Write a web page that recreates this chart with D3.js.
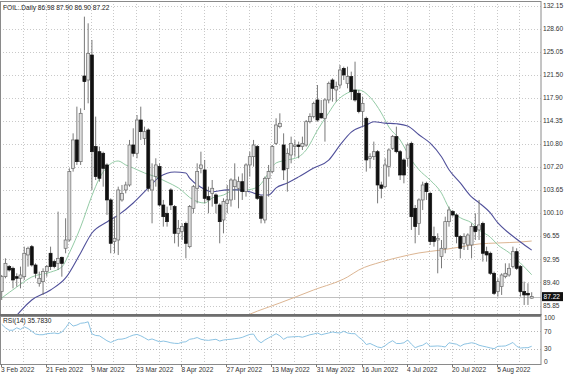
<!DOCTYPE html>
<html><head><meta charset="utf-8">
<script src="https://cdn.jsdelivr.net/npm/d3@7"></script>
<style>html,body{margin:0;padding:0;background:#fff;}svg{display:block;}</style>
</head><body>
<svg id="c" width="564" height="376"></svg>
<script>
// ---------- DATA ----------
const symbolTitle = "FOIL..Daily  86.98 87.90 86.90 87.22";
const rsiTitle = "RSI(14) 35.7830";
const lastPrice = 87.22;
const open  = [87.99,90.30,91.85,91.59,90.30,90.05,90.30,93.65,94.93,92.10,89.28,89.53,91.08,93.91,92.62,92.36,93.29,94.68,95.96,107.02,111.40,108.05,121.27,120.65,124.51,110.37,109.59,109.34,107.54,102.14,95.71,95.96,102.14,103.68,104.45,110.62,109.34,114.48,111.65,112.94,103.68,105.74,107.28,101.36,100.08,103.68,101.11,96.99,97.25,98.53,94.93,100.85,103.94,107.02,106.77,102.65,103.16,102.91,101.36,99.05,101.62,102.14,104.19,103.94,104.96,103.42,107.54,108.82,110.37,102.65,99.05,105.48,106.51,110.88,113.45,110.62,107.02,109.08,110.37,110.62,110.37,110.62,114.22,115.00,117.57,115.51,114.74,117.57,120.65,119.11,119.88,122.45,120.14,121.17,119.11,118.60,115.77,114.74,108.57,108.82,109.59,104.45,104.19,107.28,110.11,111.91,109.59,108.31,108.57,110.88,100.85,98.53,102.14,104.71,103.16,96.48,95.96,93.39,94.68,98.79,100.34,99.82,96.48,95.45,95.19,95.19,98.02,97.51,98.53,94.16,93.91,90.82,87.99,88.76,90.30,90.56,91.85,94.16,91.85,87.99,87.73,86.98];
const high  = [90.56,93.13,92.10,91.85,90.82,91.85,94.93,94.93,95.19,92.36,91.08,91.59,92.10,94.93,92.88,100.34,93.39,99.31,107.02,112.42,116.54,116.28,130.43,129.40,126.83,115.00,110.37,109.59,107.79,102.39,99.56,104.19,104.45,104.96,111.40,113.20,115.25,116.54,113.45,113.20,107.79,108.57,107.79,102.14,101.11,103.94,101.36,99.05,98.53,98.79,101.36,104.45,107.79,109.59,108.31,104.19,105.22,103.16,101.62,102.39,104.45,105.48,107.79,105.74,106.25,107.79,109.59,111.40,110.62,102.91,105.74,107.54,110.62,114.74,115.51,112.42,110.11,111.91,111.40,111.14,111.91,114.48,115.51,117.31,119.88,117.57,117.83,120.40,120.91,120.40,122.97,122.71,122.71,121.94,123.48,119.11,118.08,115.00,109.34,111.14,109.85,104.96,108.57,110.11,112.17,113.45,109.85,108.57,110.88,111.14,101.36,102.39,104.96,104.96,103.42,98.02,96.99,95.96,99.56,101.11,100.59,100.08,96.73,96.99,96.99,98.53,100.08,102.14,98.79,94.93,94.16,91.08,90.05,90.82,92.36,92.36,94.93,94.68,92.10,89.53,89.28,87.90];
const low   = [86.70,90.05,91.08,88.50,88.76,88.50,89.79,91.85,91.85,90.05,88.76,87.48,90.30,91.33,91.59,91.33,90.30,93.91,95.71,106.51,107.54,107.54,116.02,117.05,103.68,105.22,104.96,104.19,99.82,93.91,93.91,93.65,101.88,103.16,104.19,108.82,108.57,111.40,110.62,103.42,98.53,104.19,101.11,98.02,98.02,100.59,95.45,94.93,95.96,93.13,94.68,100.08,101.62,106.25,101.62,100.08,101.11,100.08,95.45,96.99,100.08,101.11,102.14,100.85,102.14,102.65,105.74,107.28,102.14,98.53,98.53,102.65,106.25,110.62,113.20,105.22,103.42,107.79,108.82,108.57,109.85,110.37,113.97,114.74,114.22,114.70,111.14,117.05,117.31,117.31,119.37,120.65,119.37,117.57,117.31,115.51,113.45,106.51,107.02,108.31,101.62,102.39,103.94,105.74,109.85,109.34,105.22,104.71,107.28,97.51,95.45,96.73,100.59,102.14,95.19,94.93,90.82,91.59,93.91,98.02,99.56,95.45,93.13,94.42,94.42,93.13,95.96,95.96,92.62,92.62,90.56,87.48,87.22,87.48,90.05,90.30,91.59,91.33,87.22,85.93,85.93,86.90];
const close = [90.30,92.36,91.33,89.79,90.05,90.56,93.91,94.68,92.10,90.82,90.05,91.08,91.85,91.85,91.85,93.13,92.36,95.96,106.51,111.40,108.05,115.51,120.40,124.77,109.59,105.74,105.48,107.02,102.14,95.45,96.22,103.68,103.16,104.45,110.62,109.34,114.48,112.68,112.68,103.94,105.22,107.54,101.36,99.56,98.79,101.36,96.99,97.76,98.02,95.45,101.11,104.19,106.51,107.54,102.39,102.14,103.94,101.62,98.79,101.88,102.14,105.22,105.22,104.96,103.42,107.54,108.82,110.62,102.39,99.31,105.48,106.51,110.37,113.71,113.97,106.77,109.34,110.88,110.62,110.37,110.88,114.22,115.00,117.05,114.48,114.80,117.57,120.14,119.37,119.63,122.20,121.43,121.17,118.85,117.57,115.77,117.05,108.31,108.82,109.59,104.45,103.94,107.54,109.85,111.91,109.59,105.99,105.99,110.62,99.56,98.02,102.14,104.45,103.42,95.71,95.71,96.22,94.68,98.79,100.59,99.82,96.48,94.68,96.48,96.73,98.02,97.25,98.28,93.91,93.65,90.82,87.73,89.53,90.56,90.82,91.59,94.16,91.59,87.99,87.48,87.48,87.22];

// moving averages: [bar index, value]
const maFast = [[0,87.0],[4,88.7],[8,90.25],[13,91.0],[16,91.8],[18,93.96],[21,97.97],[24,102.8],[26,105.5],[28,107.2],[31,108.15],[33,107.54],[35,107.07],[38,106.3],[41,105.7],[44,104.9],[47,104.0],[51,102.14],[54,101.67],[56,102.44],[59,102.9],[62,103.7],[65,103.7],[68,104.1],[71,106.3],[73,107.85],[76,108.3],[79,108.8],[81,109.85],[84,112.9],[87,115.6],[89,117.3],[92,118.65],[95,119.1],[98,118.0],[101,115.56],[103,113.4],[106,111.4],[109,108.3],[111,106.8],[114,105.2],[117,103.2],[119,100.9],[122,99.4],[125,98.6],[127,97.5],[130,96.4],[132,95.2],[135,94.0],[138,92.4],[141,90.6]];
const maMid = [[3,83.6],[5,85.0],[8,86.7],[13,88.25],[17,90.1],[21,93.96],[24,97.04],[28,98.74],[31,99.8],[35,101.67],[39,104.0],[42,105.7],[46,106.46],[49,106.3],[50,105.5],[53,104.1],[56,103.4],[60,103.7],[63,103.7],[66,103.4],[69,102.9],[71,102.9],[73,104.0],[76,104.76],[79,105.7],[83,107.07],[87,108.3],[90,110.6],[93,112.6],[97,113.7],[99,114.2],[102,114.0],[105,113.9],[108,113.56],[111,112.2],[114,110.9],[117,108.8],[119,106.8],[122,104.76],[125,102.6],[127,101.7],[130,100.13],[132,98.6],[135,97.0],[138,95.65],[141,94.4]];
const maSlow = [[64,83.9],[66,84.5],[70,85.4],[74,86.24],[83,88.25],[92,90.25],[95,91.33],[101,92.57],[106,93.34],[111,93.96],[117,94.42],[122,94.88],[127,95.35],[132,95.5],[138,95.65],[141,95.8]];

// RSI(14), one value per bar
const rsi = [85.7,77.8,72.2,72.2,77.8,74,80,76,69.8,63.5,62,62,64.3,65,65.9,64.3,68,77.8,89.7,81.7,84,88,89,91.3,64,60.3,59.5,54,48.4,44.4,48.4,51.6,52,54,57.9,61.1,62.7,59.5,55,50,52.4,49,46,47.6,46,43.7,42.5,42.1,45,46,51.6,53,55.6,51.6,50,49.2,50.5,51.6,47.6,50,51,51.6,53,54,56,59.5,62.7,63.5,50,43.7,50,54.8,59.5,64.3,59.5,51.6,56.3,57,57.5,57.9,56.3,59,61.9,63.5,65.9,61.9,64,65.9,68.3,66.7,65.9,69.8,65.9,64.5,64.3,56.3,50,39.7,42.1,38,34.1,32.5,37,43.7,48.4,42.1,42,43.7,50,40.5,32.5,36,38.1,43.7,35.7,36,36.5,35.7,34.1,43.7,42,40.5,35.7,40.5,42,43.7,42.1,38.1,36,34.1,32,30.2,35.7,36,36.5,40,44.4,35.7,31.7,32.5,32.5,35.78];

const priceTicks = ["132.15","128.60","125.05","121.50","117.90","114.35","110.80","107.20","103.65","100.10","96.55","92.95","89.40","85.85"];
const rsiTicks = [100,70,30,0];
const rsiLevels = [70,30];
const dateLabels = ["3 Feb 2022","21 Feb 2022","9 Mar 2022","23 Mar 2022","8 Apr 2022","27 Apr 2022","13 May 2022","31 May 2022","16 Jun 2022","4 Jul 2022","20 Jul 2022","5 Aug 2022"];
const dateLabelStep = 12; // bars between date labels
const gridStep = 6;       // bars between vertical grid lines

// ---------- LAYOUT ----------
const svg = d3.select("#c");
const plotR = 541, mainTop = 1, mainBot = 314, rsiTop = 316, rsiBot = 364;
const FONT = "'Liberation Sans', Arial, sans-serif";
const n = close.length;
const x = d3.scaleLinear().domain([0, n - 1]).range([1.7, 531.7]);
const y = d3.scaleLinear().domain([85.85, 132.15]).range([305.5, 5.5]);
const ry = d3.scaleLinear().domain([0, 100]).range([362, 318]);

svg.append("rect").attr("width",564).attr("height",376).attr("fill","#fff");

const defs = svg.append("defs");
defs.append("clipPath").attr("id","mainClip").append("rect")
  .attr("x",0).attr("y",mainTop).attr("width",plotR).attr("height",mainBot-mainTop);
defs.append("clipPath").attr("id","rsiClip").append("rect")
  .attr("x",0).attr("y",rsiTop).attr("width",plotR).attr("height",rsiBot-rsiTop);

const gridCol = "#c9c9c9";
// vertical grid
const vIdx = d3.range(0, n, gridStep).filter(i => i > 0);
[[mainTop, mainBot],[rsiTop, rsiBot]].forEach(([t,b]) => {
  svg.append("g").selectAll("line").data(vIdx).join("line")
    .attr("x1", d => Math.round(x(d)) - 0.5).attr("x2", d => Math.round(x(d)) - 0.5)
    .attr("y1", t).attr("y2", b)
    .attr("stroke", gridCol).attr("stroke-width",1).attr("stroke-dasharray","1,2");
});
// horizontal grid main
svg.append("g").selectAll("line").data(priceTicks).join("line")
  .attr("x1",0).attr("x2",plotR)
  .attr("y1", d => Math.round(y(+d)) + 0.5).attr("y2", d => Math.round(y(+d)) + 0.5)
  .attr("stroke", gridCol).attr("stroke-dasharray","1,2");
// rsi levels
svg.append("g").selectAll("line").data(rsiLevels).join("line")
  .attr("x1",0).attr("x2",plotR)
  .attr("y1", d => Math.round(ry(d)) + 0.5).attr("y2", d => Math.round(ry(d)) + 0.5)
  .attr("stroke", "#b8b8b8").attr("stroke-dasharray","1,2");

// last price line
svg.append("line").attr("x1",0).attr("x2",plotR)
  .attr("y1", Math.round(y(lastPrice))+0.5).attr("y2", Math.round(y(lastPrice))+0.5)
  .attr("stroke","#c0c0c0").attr("stroke-width",1);

// moving averages
const main = svg.append("g").attr("clip-path","url(#mainClip)");
const maLine = d3.line().x(d => x(d[0])).y(d => y(d[1])).curve(d3.curveMonotoneX);
main.append("path").datum(maSlow).attr("d", maLine).attr("fill","none").attr("stroke","#dcb592").attr("stroke-width",1);
main.append("path").datum(maFast).attr("d", maLine).attr("fill","none").attr("stroke","#94cba6").attr("stroke-width",1);
main.append("path").datum(maMid).attr("d", maLine).attr("fill","none").attr("stroke","#50509a").attr("stroke-width",1.1);

// candles
const idx = d3.range(n);
const cg = main.append("g");
cg.selectAll("line").data(idx).join("line")
  .attr("x1", i => x(i)).attr("x2", i => x(i))
  .attr("y1", i => y(high[i])).attr("y2", i => y(low[i]))
  .attr("stroke", "#6a6a6a").attr("stroke-width", 0.9);
cg.selectAll("rect").data(idx).join("rect")
  .attr("x", i => x(i) - 1.5).attr("width", 3)
  .attr("y", i => y(Math.max(open[i], close[i])))
  .attr("height", i => Math.max(0.8, Math.abs(y(open[i]) - y(close[i]))))
  .attr("fill", i => close[i] >= open[i] ? "#dedede" : "#111")
  .attr("stroke", i => close[i] >= open[i] ? "#6a6a6a" : "#111")
  .attr("stroke-width", 0.7);

// RSI line
const rg = svg.append("g").attr("clip-path","url(#rsiClip)");
rg.append("path").datum(rsi)
  .attr("d", d3.line().x((d,i) => x(i)).y(d => ry(d)))
  .attr("fill","none").attr("stroke","#8cc3e3").attr("stroke-width",1);

// frames
svg.append("rect").attr("x",0.5).attr("y",mainTop+0.5).attr("width",plotR-0.5).attr("height",mainBot-mainTop)
  .attr("fill","none").attr("stroke","#8a8a8a").attr("stroke-width",1);
svg.append("rect").attr("x",0).attr("y",mainBot).attr("width",plotR+0.5).attr("height",2).attr("fill","#6e6e6e");
svg.append("rect").attr("x",0.5).attr("y",rsiTop+0.5).attr("width",plotR-0.5).attr("height",rsiBot-rsiTop)
  .attr("fill","none").attr("stroke","#8a8a8a").attr("stroke-width",1);

// price axis labels
svg.append("g").selectAll("text").data(priceTicks).join("text")
  .attr("x", plotR + 2).attr("y", d => y(+d)).attr("dy","0.35em")
  .attr("font-family",FONT).attr("font-size","6.6px").attr("fill","#333").text(d => d);
// last price box
const lp = svg.append("g");
lp.append("rect").attr("x", plotR + 1).attr("y", y(lastPrice) - 4.5).attr("width", 21).attr("height", 9).attr("fill","#111");
lp.append("text").attr("x", plotR + 2.5).attr("y", y(lastPrice)).attr("dy","0.35em")
  .attr("font-family",FONT).attr("font-size","6.6px").attr("fill","#fff").text(lastPrice.toFixed(2));

// rsi axis labels
svg.append("g").selectAll("text").data(rsiTicks).join("text")
  .attr("x", plotR + 3).attr("y", d => ry(d)).attr("dy","0.35em")
  .attr("font-family",FONT).attr("font-size","6.6px").attr("fill","#333").text(d => d);

// date labels + ticks
const dIdx = dateLabels.map((d,i) => i * dateLabelStep);
svg.append("g").selectAll("line").data(dIdx).join("line")
  .attr("x1", i => Math.round(x(i)) - 0.5).attr("x2", i => Math.round(x(i)) - 0.5)
  .attr("y1", rsiBot).attr("y2", rsiBot + 3).attr("stroke","#777");
svg.append("g").selectAll("text").data(dateLabels).join("text")
  .attr("x", (d,i) => x(dIdx[i]) - 0.7).attr("y", 369.5).attr("dy","0.35em")
  .attr("font-family",FONT).attr("font-size","6.6px").attr("fill","#333").text(d => d);

// titles
svg.append("text").attr("x",3).attr("y",7.5).attr("dy","0.35em")
  .attr("font-family",FONT).attr("font-size","6.6px").attr("fill","#222").text(symbolTitle);
svg.append("text").attr("x",3).attr("y",320.5).attr("dy","0.35em")
  .attr("font-family",FONT).attr("font-size","6.6px").attr("fill","#222").text(rsiTitle);
</script>
</body></html>
